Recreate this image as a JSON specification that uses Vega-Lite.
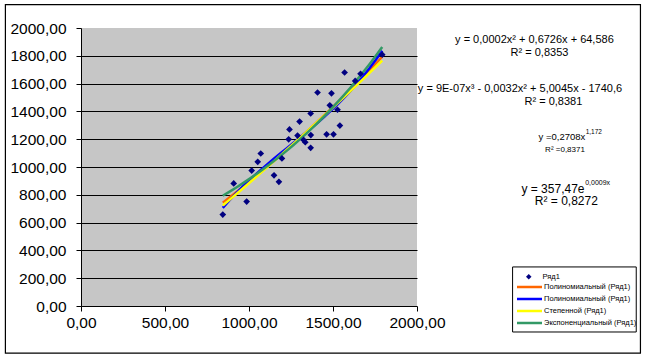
{
  "$schema": "https://vega.github.io/schema/vega-lite/v6.json",
  "width": 336,
  "height": 278,
  "autosize": {"type": "none"},
  "padding": {"left": 81, "top": 28, "right": 231, "bottom": 53},
  "background": "white",
  "datasets": {
    "pts": [
      {"x": 844, "y": 658}, {"x": 909, "y": 882}, {"x": 986, "y": 751}, {"x": 1016, "y": 974},
      {"x": 1052, "y": 1037}, {"x": 1070, "y": 1097}, {"x": 1149, "y": 940}, {"x": 1178, "y": 893},
      {"x": 1196, "y": 1062}, {"x": 1236, "y": 1199}, {"x": 1241, "y": 1270}, {"x": 1289, "y": 1226},
      {"x": 1301, "y": 1327}, {"x": 1325, "y": 1195}, {"x": 1335, "y": 1178}, {"x": 1367, "y": 1385},
      {"x": 1368, "y": 1230}, {"x": 1367, "y": 1138}, {"x": 1408, "y": 1536}, {"x": 1462, "y": 1235},
      {"x": 1481, "y": 1444}, {"x": 1491, "y": 1530}, {"x": 1503, "y": 1235}, {"x": 1527, "y": 1412},
      {"x": 1541, "y": 1298}, {"x": 1569, "y": 1680}, {"x": 1632, "y": 1619}, {"x": 1664, "y": 1671},
      {"x": 1793, "y": 1808}
    ],
    "ann": [
      {"grp": "m", "x": 2699, "y": 1916, "t": "y = 0,0002x² + 0,6726x + 64,586"},
      {"grp": "m", "x": 2729, "y": 1822, "t": "R² = 0,8353"},
      {"grp": "m", "x": 2613, "y": 1563, "t": "y = 9E-07x³ - 0,0032x² + 5,0045x - 1740,6"},
      {"grp": "m", "x": 2812, "y": 1469, "t": "R² = 0,8381"},
      {"grp": "pr", "x": 3002, "y": 1217, "t": "y =0,2708x"},
      {"grp": "ps", "x": 3004, "y": 1250, "t": "1,172"},
      {"grp": "p", "x": 2881, "y": 1124, "t": "R² =0,8371"},
      {"grp": "er", "x": 2997, "y": 843, "t": "y = 357,47e"},
      {"grp": "es", "x": 3001, "y": 886, "t": "0,0009x"},
      {"grp": "e", "x": 2889, "y": 756, "t": "R² = 0,8272"}
    ],
    "frame": [{"x1": -450, "x2": 3330, "y1": 2168, "y2": -339}],
    "lbox": [{"x1": 2569, "x2": 3305, "y1": 281, "y2": -187}]
  },
  "config": {
    "locale": {"number": {"decimal": ",", "thousands": " ", "grouping": [3], "currency": ["", ""]}},
    "view": {"fill": "#c6c6c6", "stroke": null},
    "font": "Liberation Sans",
    "axis": {
      "labelFont": "Liberation Sans",
      "labelFontSize": 15.5,
      "labelColor": "black",
      "tickColor": "black",
      "tickSize": 5,
      "domainColor": "black",
      "domainWidth": 1,
      "tickWidth": 1,
      "labelOverlap": false,
      "labelFlush": false,
      "title": null
    },
    "text": {"font": "Liberation Sans", "color": "black"}
  },
  "layer": [
    {
      "data": {"name": "frame"},
      "mark": {"type": "rect", "fill": null, "filled": false, "stroke": "black", "strokeWidth": 1.2},
      "encoding": {
        "x": {"field": "x1", "type": "quantitative", "scale": {"domain": [0, 2000], "nice": false}, "title": null},
        "x2": {"field": "x2"},
        "y": {"field": "y1", "type": "quantitative", "scale": {"domain": [0, 2000], "nice": false}, "title": null},
        "y2": {"field": "y2"}
      }
    },
    {
      "data": {"name": "lbox"},
      "mark": {"type": "rect", "fill": "white", "stroke": "black", "strokeWidth": 1},
      "encoding": {
        "x": {"field": "x1", "type": "quantitative", "scale": {"domain": [0, 2000], "nice": false}, "title": null},
        "x2": {"field": "x2"},
        "y": {"field": "y1", "type": "quantitative", "scale": {"domain": [0, 2000], "nice": false}, "title": null},
        "y2": {"field": "y2"}
      }
    },
    {
      "data": {"name": "pts"},
      "transform": [{"regression": "y", "on": "x", "method": "poly", "order": 2}],
      "mark": {"type": "line", "strokeWidth": 2.5},
      "encoding": {
        "x": {"field": "x", "type": "quantitative", "scale": {"domain": [0, 2000], "nice": false}, "title": null},
        "y": {"field": "y", "type": "quantitative", "scale": {"domain": [0, 2000], "nice": false}, "title": null},
        "color": {
          "datum": "p2",
          "scale": {
            "domain": ["p2", "p3", "pw", "ex"],
            "range": ["#FF6600", "#0000FF", "#FFFF00", "#339966"]
          },
          "legend": {
            "title": null,
            "orient": "none",
            "legendX": 435,
            "legendY": 252.5,
            "padding": 0,
            "labelFont": "Liberation Sans",
            "labelFontSize": 7.5,
            "labelColor": "black",
            "symbolType": "M-2.5,0H2.5",
            "symbolSize": 100,
            "symbolStrokeWidth": 2.5,
            "rowPadding": 0,
            "symbolOffset": 7,
            "labelOffset": 8,
            "labelExpr": "(datum.value == 'p2' || datum.value == 'p3') ? 'Полиномиальный (Ряд1)' : datum.value == 'pw' ? 'Степенной (Ряд1)' : 'Экспоненциальный (Ряд1)'"
          }
        }
      }
    },
    {
      "data": {"name": "pts"},
      "transform": [{"regression": "y", "on": "x", "method": "poly", "order": 3}],
      "mark": {"type": "line", "strokeWidth": 2.5},
      "encoding": {
        "x": {"field": "x", "type": "quantitative", "scale": {"domain": [0, 2000], "nice": false}, "title": null},
        "y": {"field": "y", "type": "quantitative", "scale": {"domain": [0, 2000], "nice": false}, "title": null},
        "color": {"datum": "p3"}
      }
    },
    {
      "data": {"name": "pts"},
      "transform": [{"regression": "y", "on": "x", "method": "pow"}],
      "mark": {"type": "line", "strokeWidth": 2.5},
      "encoding": {
        "x": {"field": "x", "type": "quantitative", "scale": {"domain": [0, 2000], "nice": false}, "title": null},
        "y": {"field": "y", "type": "quantitative", "scale": {"domain": [0, 2000], "nice": false}, "title": null},
        "color": {"datum": "pw"}
      }
    },
    {
      "data": {"name": "pts"},
      "transform": [{"regression": "y", "on": "x", "method": "exp"}],
      "mark": {"type": "line", "strokeWidth": 2.5},
      "encoding": {
        "x": {"field": "x", "type": "quantitative", "scale": {"domain": [0, 2000], "nice": false}, "title": null},
        "y": {"field": "y", "type": "quantitative", "scale": {"domain": [0, 2000], "nice": false}, "title": null},
        "color": {"datum": "ex"}
      }
    },
    {
      "data": {"name": "pts"},
      "mark": {"type": "point", "filled": true, "size": 45, "opacity": 1, "color": "#000080"},
      "encoding": {
        "x": {
          "field": "x", "type": "quantitative", "scale": {"domain": [0, 2000], "nice": false}, "title": null,
          "axis": {"values": [0, 500, 1000, 1500, 2000], "format": ".2f", "grid": false, "labelPadding": 4, "tickCount": 20, "labelFlush": false}
        },
        "y": {
          "field": "y", "type": "quantitative", "scale": {"domain": [0, 2000], "nice": false}, "title": null,
          "axis": {
            "values": [0, 200, 400, 600, 800, 1000, 1200, 1400, 1600, 1800, 2000],
            "tickCount": 20,
            "format": ".2f", "grid": true, "gridWidth": 1, "labelPadding": 10, "labelFlush": false,
            "gridColor": {"condition": {"test": "datum.value >= 2000 || datum.value <= 0", "value": "transparent"}, "value": "black"}
          }
        },
        "shape": {
          "datum": "Ряд1",
          "scale": {"domain": ["Ряд1"], "range": ["diamond"]},
          "legend": {
            "title": null,
            "orient": "none",
            "legendX": 435,
            "legendY": 245,
            "padding": 0,
            "labelFont": "Liberation Sans",
            "labelFontSize": 7.5,
            "labelColor": "black",
            "symbolSize": 30,
            "symbolStrokeWidth": 0,
            "symbolFillColor": "#000080",
            "symbolOffset": 9,
            "labelOffset": 10
          }
        }
      }
    },
    {
      "data": {"name": "ann"},
      "transform": [{"filter": "datum.grp == 'm'"}],
      "mark": {"type": "text", "fontSize": 11, "align": "center", "baseline": "middle"},
      "encoding": {
        "x": {"field": "x", "type": "quantitative", "scale": {"domain": [0, 2000], "nice": false}, "title": null},
        "y": {"field": "y", "type": "quantitative", "scale": {"domain": [0, 2000], "nice": false}, "title": null},
        "text": {"field": "t"}
      }
    },
    {
      "data": {"name": "ann"},
      "transform": [{"filter": "datum.grp == 'e'"}],
      "mark": {"type": "text", "fontSize": 12, "align": "center", "baseline": "middle"},
      "encoding": {
        "x": {"field": "x", "type": "quantitative", "scale": {"domain": [0, 2000], "nice": false}, "title": null},
        "y": {"field": "y", "type": "quantitative", "scale": {"domain": [0, 2000], "nice": false}, "title": null},
        "text": {"field": "t"}
      }
    },
    {
      "data": {"name": "ann"},
      "transform": [{"filter": "datum.grp == 'er'"}],
      "mark": {"type": "text", "fontSize": 12, "align": "right", "baseline": "middle"},
      "encoding": {
        "x": {"field": "x", "type": "quantitative", "scale": {"domain": [0, 2000], "nice": false}, "title": null},
        "y": {"field": "y", "type": "quantitative", "scale": {"domain": [0, 2000], "nice": false}, "title": null},
        "text": {"field": "t"}
      }
    },
    {
      "data": {"name": "ann"},
      "transform": [{"filter": "datum.grp == 'es'"}],
      "mark": {"type": "text", "fontSize": 7, "align": "left", "baseline": "middle"},
      "encoding": {
        "x": {"field": "x", "type": "quantitative", "scale": {"domain": [0, 2000], "nice": false}, "title": null},
        "y": {"field": "y", "type": "quantitative", "scale": {"domain": [0, 2000], "nice": false}, "title": null},
        "text": {"field": "t"}
      }
    },
    {
      "data": {"name": "ann"},
      "transform": [{"filter": "datum.grp == 'p'"}],
      "mark": {"type": "text", "fontSize": 8, "align": "center", "baseline": "middle"},
      "encoding": {
        "x": {"field": "x", "type": "quantitative", "scale": {"domain": [0, 2000], "nice": false}, "title": null},
        "y": {"field": "y", "type": "quantitative", "scale": {"domain": [0, 2000], "nice": false}, "title": null},
        "text": {"field": "t"}
      }
    },
    {
      "data": {"name": "ann"},
      "transform": [{"filter": "datum.grp == 'pr'"}],
      "mark": {"type": "text", "fontSize": 9.5, "align": "right", "baseline": "middle"},
      "encoding": {
        "x": {"field": "x", "type": "quantitative", "scale": {"domain": [0, 2000], "nice": false}, "title": null},
        "y": {"field": "y", "type": "quantitative", "scale": {"domain": [0, 2000], "nice": false}, "title": null},
        "text": {"field": "t"}
      }
    },
    {
      "data": {"name": "ann"},
      "transform": [{"filter": "datum.grp == 'ps'"}],
      "mark": {"type": "text", "fontSize": 6.5, "align": "left", "baseline": "middle"},
      "encoding": {
        "x": {"field": "x", "type": "quantitative", "scale": {"domain": [0, 2000], "nice": false}, "title": null},
        "y": {"field": "y", "type": "quantitative", "scale": {"domain": [0, 2000], "nice": false}, "title": null},
        "text": {"field": "t"}
      }
    }
  ]
}
